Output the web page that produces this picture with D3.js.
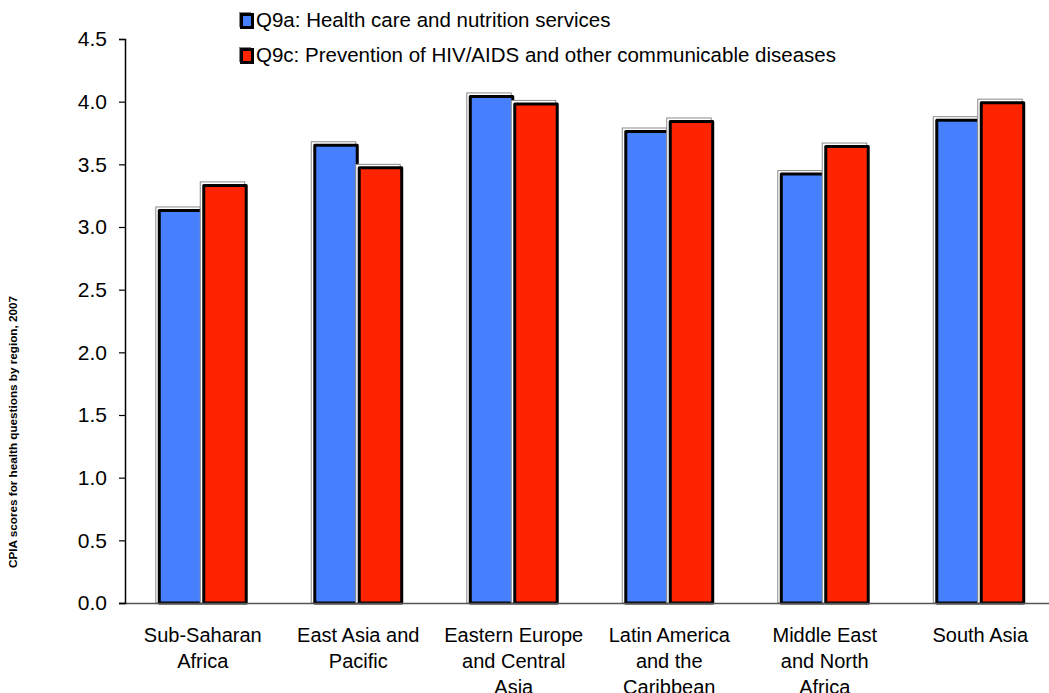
<!DOCTYPE html>
<html>
<head>
<meta charset="utf-8">
<script src="https://cdn.jsdelivr.net/npm/d3@7"></script>
<style>
  html, body { margin: 0; padding: 0; background: #fff; }
  svg { display: block; font-family: Arial, "Liberation Sans", sans-serif; }
</style>
</head>
<body>
<svg id="chart" width="1049" height="693"></svg>
<script>
// Regions (x categories) and their wrapped label lines
const regions = ["Sub-Saharan Africa", "East Asia and Pacific", "Eastern Europe and Central Asia",
  "Latin America and the Caribbean", "Middle East and North Africa", "South Asia"];
const regionLines = [
  ["Sub-Saharan", "Africa"],
  ["East Asia and", "Pacific"],
  ["Eastern Europe", "and Central", "Asia"],
  ["Latin America", "and the", "Caribbean"],
  ["Middle East", "and North", "Africa"],
  ["South Asia"]
];

// Series
const seriesNames = ["Q9a: Health care and nutrition services",
  "Q9c: Prevention of HIV/AIDS and other communicable diseases"];
const q9a = [3.14, 3.66, 4.05, 3.77, 3.43, 3.86];
const q9c = [3.34, 3.48, 3.99, 3.85, 3.65, 4.00];
const seriesColors = ["#4680FF", "#FF2400"];

const yTicks = [0, 0.5, 1.0, 1.5, 2.0, 2.5, 3.0, 3.5, 4.0, 4.5];
const yTitle = "CPIA scores for health questions by region, 2007";

(function draw() {
  const svg = d3.select("#chart");

  const plotLeft = 125, plotTop = 39, plotBottom = 603, step = 155.5;
  const y = d3.scaleLinear().domain([0, 4.5]).range([plotBottom, plotTop]);
  const pad = 0.428;
  const x = d3.scaleBand().domain(regions)
    .range([plotLeft, plotLeft + step * regions.length])
    .paddingInner(pad).paddingOuter(pad / 2);
  const xs = d3.scaleBand().domain([0, 1]).range([0, x.bandwidth()]);

  const rows = regions.map((r, i) => ({ region: r, vals: [q9a[i], q9c[i]] }));

  // Bars
  const groups = svg.append("g").selectAll("g").data(rows).join("g")
    .attr("transform", d => `translate(${x(d.region)},0)`);

  const bars = groups.selectAll("g.bar").data(d => d.vals.map((v, k) => ({ v, k })))
    .join("g").attr("class", "bar");

  // light offset outline behind each bar
  bars.append("rect")
    .attr("x", d => xs(d.k) - 2.5)
    .attr("y", d => y(d.v) - 2.5)
    .attr("width", xs.bandwidth())
    .attr("height", d => plotBottom - y(d.v) + 2.5)
    .attr("fill", "#fff")
    .attr("stroke", "#8a8a8a")
    .attr("stroke-width", 1);

  bars.append("rect")
    .attr("x", d => xs(d.k) + 1)
    .attr("y", d => y(d.v) + 1)
    .attr("width", xs.bandwidth() - 2)
    .attr("height", d => plotBottom - y(d.v) - 1)
    .attr("fill", d => seriesColors[d.k])
    .attr("stroke", "#000")
    .attr("stroke-width", 3)
    .attr("stroke-linejoin", "round");

  // X axis baseline
  svg.append("line")
    .attr("x1", plotLeft - 6).attr("x2", 1049)
    .attr("y1", plotBottom + 0.5).attr("y2", plotBottom + 0.5)
    .attr("stroke", "#555").attr("stroke-width", 1.5);

  // Y axis
  const yAxis = d3.axisLeft(y).tickValues(yTicks).tickFormat(d3.format(".1f"))
    .tickSize(6).tickPadding(12);
  const yg = svg.append("g").attr("transform", `translate(${plotLeft},0)`).call(yAxis);
  yg.select(".domain").attr("stroke", "#000").attr("stroke-width", 1.5);
  yg.selectAll(".tick line").attr("stroke", "#000").attr("stroke-width", 1.2);
  yg.selectAll(".tick text")
    .attr("font-size", 21).attr("fill", "#000")
    .attr("font-family", "Arial, 'Liberation Sans', sans-serif");

  // X category labels
  const xl = svg.append("g").selectAll("text").data(rows).join("text")
    .attr("text-anchor", "middle")
    .attr("font-size", 20)
    .attr("fill", "#000")
    .attr("x", d => x(d.region) + x.bandwidth() / 2)
    .attr("y", 642);
  xl.each(function (d, i) {
    d3.select(this).selectAll("tspan").data(regionLines[i]).join("tspan")
      .attr("x", x(d.region) + x.bandwidth() / 2)
      .attr("dy", (t, j) => j === 0 ? 0 : 26)
      .text(t => t);
  });

  // Y axis title
  svg.append("text")
    .attr("transform", "translate(17,432) rotate(-90)")
    .attr("text-anchor", "middle")
    .attr("font-size", 10.5)
    .attr("font-weight", "bold")
    .attr("textLength", 272)
    .attr("lengthAdjust", "spacingAndGlyphs")
    .attr("fill", "#000")
    .text(yTitle);

  // Legend
  const legend = svg.append("g").selectAll("g").data(seriesNames).join("g")
    .attr("transform", (d, i) => `translate(240,${13 + i * 35})`);
  legend.append("rect")
    .attr("x", -1).attr("y", -1).attr("width", 12).attr("height", 15)
    .attr("fill", "#888");
  legend.append("rect")
    .attr("x", 1.5).attr("y", 1.5).attr("width", 11).attr("height", 13)
    .attr("fill", (d, i) => seriesColors[i])
    .attr("stroke", "#000").attr("stroke-width", 3);
  legend.append("text")
    .attr("x", 16).attr("y", 14)
    .attr("font-size", 20.5)
    .attr("fill", "#000")
    .text(d => d);
})();
</script>
</body>
</html>
